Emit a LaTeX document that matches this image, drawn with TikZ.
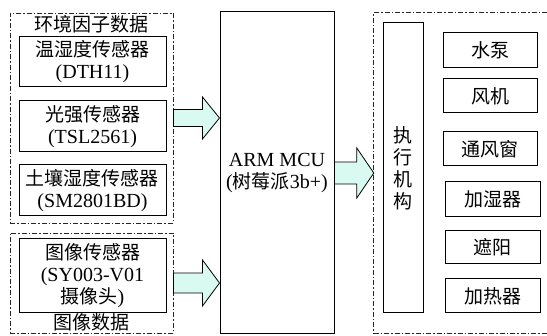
\documentclass[tikz,border=0pt]{standalone}
\usepackage{fontspec}
\setmainfont{Liberation Serif}
\newfontfamily\cjk[Scale=0.95]{Noto Sans CJK SC}
\usetikzlibrary{calc,%
                positioning}

\definecolor{arrowcyan}{RGB}{217,250,240}

\tikzset{
  every node/.style={font=\fontsize{20}{22}\selectfont},
  frame/.style={draw=black!85, line width=.8pt,
                dash pattern=on 5pt off 2pt on 1.5pt off 2pt},
  box/.style={draw, line width=1pt, inner sep=0pt, align=center},
  fatarrow/.style={fill=arrowcyan, draw=black, line width=.8pt}
}

% block arrow: from, to, shaft half width, head half width
\newcommand\blockarrow[4]{%
  \filldraw[fatarrow] let \p1=(#1.east), \p2=(#2.west) in
    (\x1,\y1+#3) -- (\x2-17pt,\y1+#3) -- (\x2-17pt,\y1+#4) -- (\x2,\y1)
    -- (\x2-17pt,\y1-#4) -- (\x2-17pt,\y1-#3) -- (\x1,\y1-#3) -- cycle;}

\begin{document}
\begin{tikzpicture}[x=1pt,y=-1pt]
      \useasboundingbox (0,0) rectangle (547,336);

      % sensor groups
      \node[frame, minimum width=163pt, minimum height=210pt, inner sep=0pt] (env) at (91.5,118) {};
      \node[frame, minimum width=163pt, minimum height=100pt, inner sep=0pt] (img) at (91.5,283) {};
      \node (envlabel) at (91.5,24) {\cjk 环境因子数据};
      \node (imglabel) at (91.5,322) {\cjk 图像数据};

      \node[box, minimum width=147pt, minimum height=50pt] (dth) at (92.5,62)
           {{\cjk 温湿度传感器}\\(DTH11)};
      \node[box, minimum width=147pt, minimum height=51pt] (tsl) at (92.5,126.5)
           {{\cjk 光强传感器}\\(TSL2561)};
      \node[box, minimum width=147pt, minimum height=51pt] (sm) at (92.5,190.5)
           {{\cjk 土壤湿度传感器}\\(SM2801BD)};
      \node[box, minimum width=147pt, minimum height=74pt] (cam) at (92.5,276)
           {{\cjk 图像传感器}\\(SY003-V01\\{\cjk 摄像头})};

      % controller
      \node[box, minimum width=114pt, minimum height=322pt] (mcu) at (277,173)
           {ARM MCU\\({\cjk 树莓派}3b+)};

      % actuators
      \node[minimum width=173pt, minimum height=320pt, inner sep=0pt] (act) at (460.5,173) {};
      \draw[frame] (act.north east) -- (act.north west) -- (act.south west) -- (act.south east);

      \node[box, minimum width=40pt, minimum height=290pt] (exec) at (403,168)
           {\cjk 执\\\cjk 行\\\cjk 机\\\cjk 构};

      \node[box, minimum width=94pt, minimum height=35pt] (pump) at (490,50.5) {\cjk 水泵};
      \node[box, minimum width=94pt, minimum height=34pt] (fan) at (490,96) {\cjk 风机};
      \node[box, minimum width=94pt, minimum height=34pt] (vent) at (490,149) {\cjk 通风窗};
      \node[box, minimum width=95pt, minimum height=35pt] (humid) at (492.5,199.5) {\cjk 加湿器};
      \node[box, minimum width=95pt, minimum height=33pt] (shade) at (492.5,247.5) {\cjk 遮阳};
      \node[box, minimum width=95pt, minimum height=34pt] (heat) at (492.5,296) {\cjk 加热器};

      \blockarrow{env}{mcu}{8.5pt}{21pt}
      \blockarrow{img}{mcu}{10pt}{23pt}
      \blockarrow{mcu}{act}{11pt}{25pt}
\end{tikzpicture}
\end{document}
